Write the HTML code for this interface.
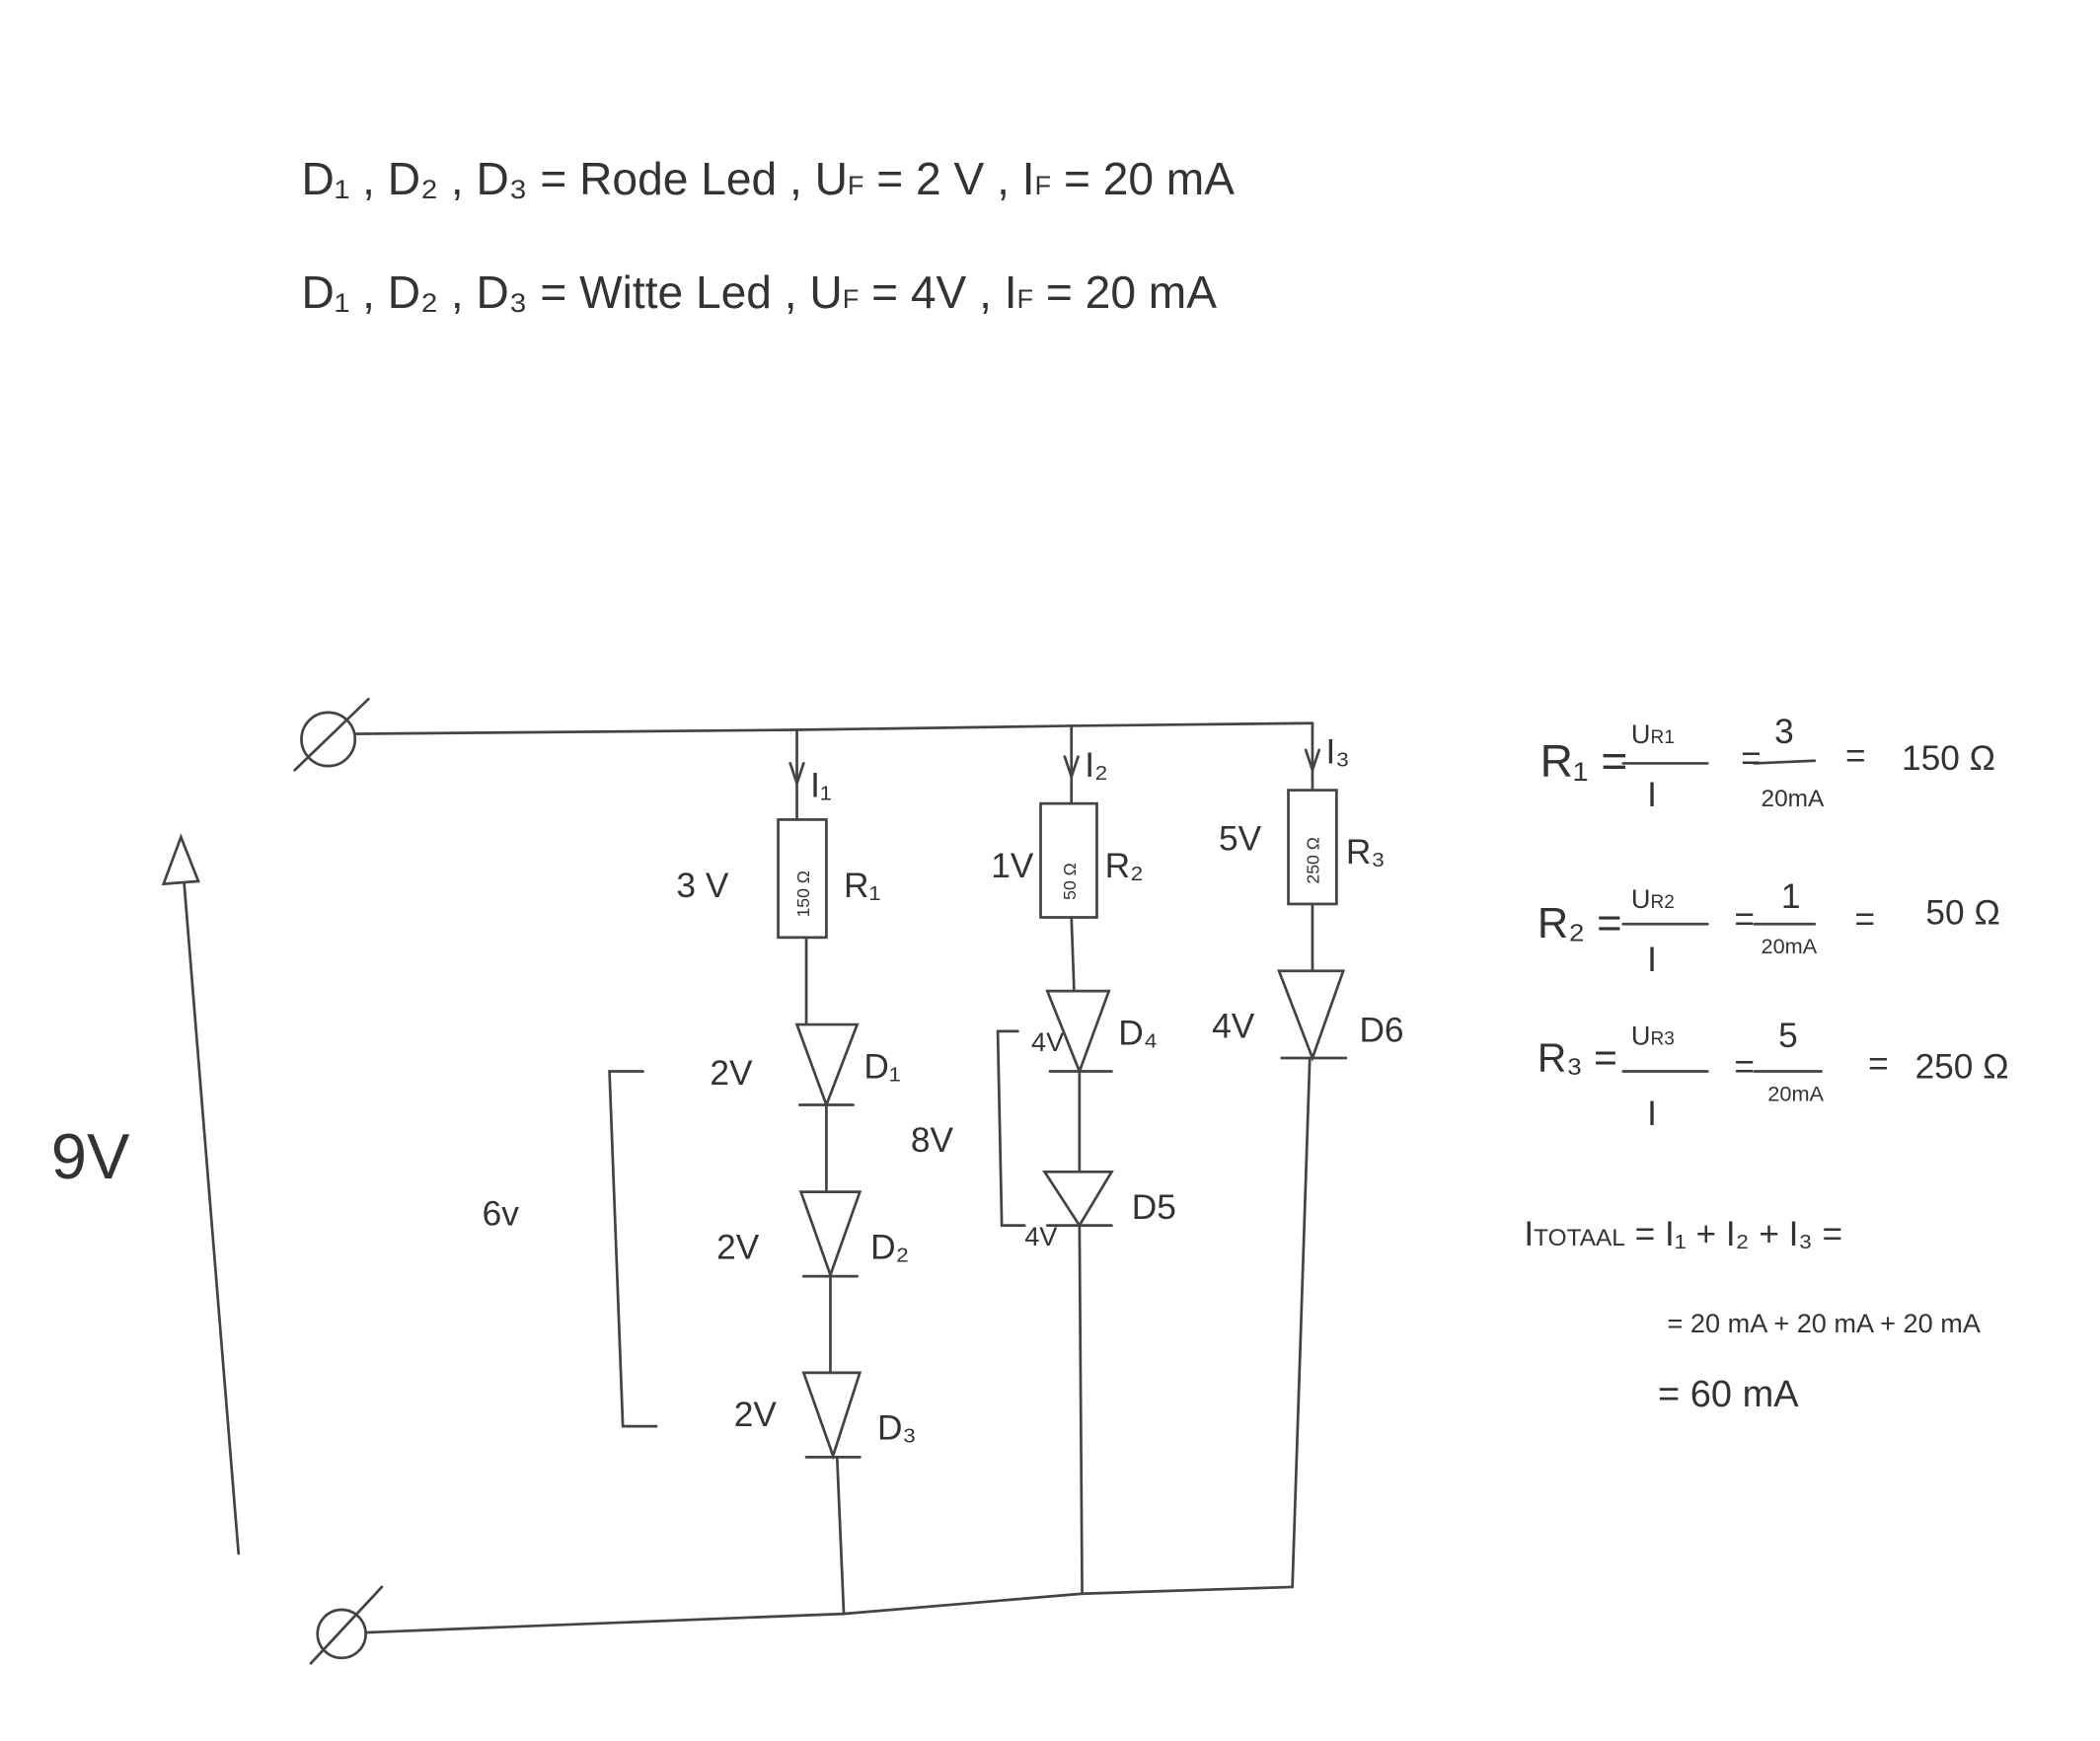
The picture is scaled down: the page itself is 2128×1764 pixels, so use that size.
<!DOCTYPE html>
<html><head><meta charset="utf-8"><style>
html,body{margin:0;padding:0;background:#fff;}
svg{display:block}
text{font-family:"Liberation Sans",sans-serif;fill:#333;}
</style></head><body>
<svg width="2128" height="1764" viewBox="0 0 1568 1300" xmlns="http://www.w3.org/2000/svg">
<rect width="1568" height="1300" fill="#fff"/>
<g stroke="#444" stroke-width="2" fill="none" stroke-linecap="round">
<!-- terminals -->
<circle cx="245" cy="552" r="20"/><line x1="220" y1="575" x2="275" y2="522"/>
<circle cx="255" cy="1220" r="18"/><line x1="232" y1="1242" x2="285" y2="1185"/>
<!-- top wire -->
<polyline points="265,548 595,545 800,542 980,540"/>
<!-- bottom wire -->
<polyline points="273,1219 630,1205 808,1190 965,1185"/>
<!-- branch1 -->
<line x1="595" y1="545" x2="595" y2="612"/>
<polyline points="590,570 595,585 600,570"/>
<rect x="581" y="612" width="36" height="88"/>
<line x1="602" y1="700" x2="602" y2="765"/>
<polygon points="595,765 640,765 617,825"/><line x1="597" y1="825" x2="637" y2="825"/>
<line x1="617" y1="825" x2="617" y2="890"/>
<polygon points="598,890 642,890 620,952"/><line x1="600" y1="953" x2="640" y2="953"/>
<line x1="620" y1="953" x2="620" y2="1025"/>
<polygon points="600,1025 642,1025 622,1087"/><line x1="602" y1="1088" x2="642" y2="1088"/>
<line x1="625" y1="1088" x2="630" y2="1205"/>
<!-- branch2 -->
<line x1="800" y1="542" x2="800" y2="600"/>
<polyline points="795,565 800,580 805,565"/>
<rect x="777" y="600" width="42" height="85"/>
<line x1="800" y1="685" x2="802" y2="740"/>
<polygon points="782,740 828,740 806,800"/><line x1="784" y1="800" x2="830" y2="800"/>
<line x1="806" y1="800" x2="806" y2="875"/>
<polygon points="780,875 830,875 806,915"/><line x1="782" y1="915" x2="830" y2="915"/>
<line x1="806" y1="915" x2="808" y2="1190"/>
<!-- branch3 -->
<line x1="980" y1="540" x2="980" y2="590"/>
<polyline points="975,560 980,575 985,560"/>
<rect x="962" y="590" width="36" height="85"/>
<line x1="980" y1="675" x2="980" y2="725"/>
<polygon points="955,725 1003,725 980,790"/><line x1="957" y1="790" x2="1005" y2="790"/>
<line x1="978" y1="790" x2="965" y2="1185"/>
<!-- arrow -->
<line x1="178" y1="1160" x2="135" y2="630"/>
<polygon points="135,625 122,660 148,658" fill="#fff"/>
<!-- brackets -->
<polyline points="480,800 455,800 465,1065 490,1065"/>
<polyline points="760,770 745,770 748,915 765,915"/>
<!-- fraction lines -->
<line x1="1212" y1="570" x2="1275" y2="570"/><line x1="1310" y1="570" x2="1355" y2="568"/>
<line x1="1212" y1="690" x2="1275" y2="690"/><line x1="1310" y1="690" x2="1355" y2="690"/>
<line x1="1212" y1="800" x2="1275" y2="800"/><line x1="1310" y1="800" x2="1360" y2="800"/>
</g>
<g font-size="34">
<text x="225" y="145">D₁ , D₂ , D₃ = Rode Led , U<tspan font-size="20">F</tspan> = 2 V , I<tspan font-size="20">F</tspan> = 20 mA</text>
<text x="225" y="230">D₁ , D₂ , D₃ = Witte Led , U<tspan font-size="20">F</tspan> = 4V , I<tspan font-size="20">F</tspan> = 20 mA</text>
</g>
<g font-size="26">
<text x="38" y="880" font-size="48">9V</text>
<text x="360" y="915">6v</text>
<text x="505" y="670">3 V</text>
<text x="740" y="655">1V</text>
<text x="910" y="635">5V</text>
<text x="530" y="810">2V</text>
<text x="535" y="940">2V</text>
<text x="548" y="1065">2V</text>
<text x="680" y="860">8V</text>
<text x="770" y="785" font-size="20">4V</text>
<text x="765" y="930" font-size="20">4V</text>
<text x="905" y="775">4V</text>
<text x="605" y="595">I₁</text><text x="810" y="580">I₂</text><text x="990" y="570">I₃</text>
<text x="630" y="670">R₁</text><text x="825" y="655">R₂</text><text x="1005" y="645">R₃</text>
<text x="645" y="805">D₁</text><text x="650" y="940">D₂</text><text x="655" y="1075">D₃</text>
<text x="835" y="780">D₄</text><text x="845" y="910">D5</text><text x="1015" y="778">D6</text>
<text x="1150" y="580" font-size="34">R₁ =</text>
<text x="1218" y="555" font-size="20">U<tspan font-size="14">R1</tspan></text><text x="1230" y="602">I</text>
<text x="1300" y="575">=</text><text x="1325" y="555">3</text><text x="1315" y="602" font-size="18">20mA</text>
<text x="1378" y="573">=</text><text x="1420" y="575">150 Ω</text>
<text x="1148" y="700" font-size="32">R₂ =</text>
<text x="1218" y="678" font-size="20">U<tspan font-size="14">R2</tspan></text><text x="1230" y="725">I</text>
<text x="1295" y="695">=</text><text x="1330" y="678">1</text><text x="1315" y="712" font-size="16">20mA</text>
<text x="1385" y="695">=</text><text x="1438" y="690">50 Ω</text>
<text x="1148" y="800" font-size="30">R₃ =</text>
<text x="1218" y="780" font-size="20">U<tspan font-size="14">R3</tspan></text><text x="1230" y="840">I</text>
<text x="1295" y="805">=</text><text x="1328" y="782">5</text><text x="1320" y="822" font-size="16">20mA</text>
<text x="1395" y="803">=</text><text x="1430" y="805">250 Ω</text>
<text x="1138" y="930">I<tspan font-size="18">TOTAAL</tspan> = I₁ + I₂ + I₃ =</text>
<text x="1245" y="995" font-size="20">= 20 mA + 20 mA + 20 mA</text>
<text x="1238" y="1050" font-size="28">= 60 mA</text>
</g>
<g font-size="13">
<text transform="translate(604,685) rotate(-90)">150 Ω</text>
<text transform="translate(803,672) rotate(-90)">50 Ω</text>
<text transform="translate(985,660) rotate(-90)">250 Ω</text>
</g>
</svg>
</body></html>
